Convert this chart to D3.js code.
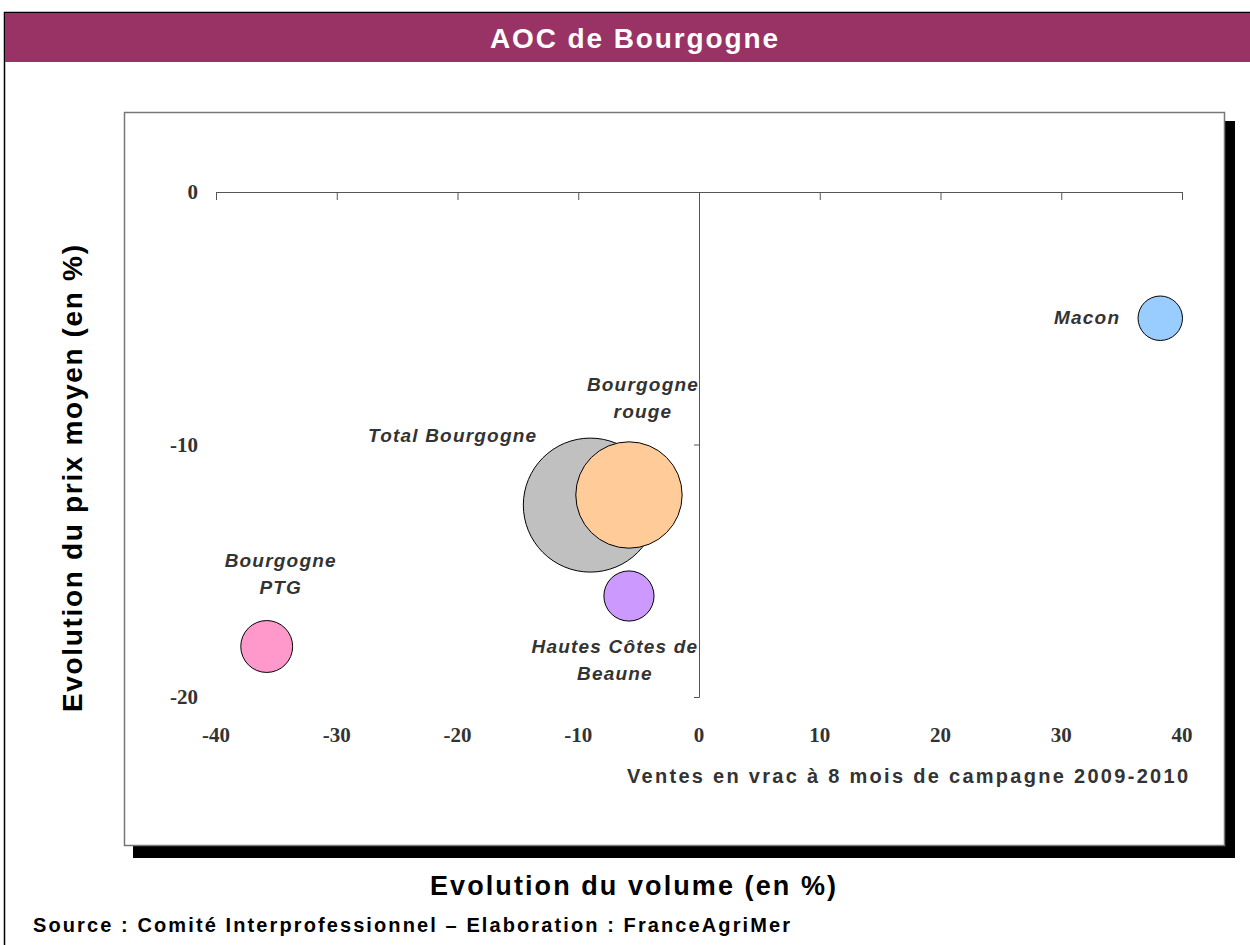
<!DOCTYPE html>
<html>
<head>
<meta charset="utf-8">
<script src="https://cdn.jsdelivr.net/npm/d3@7"></script>
<style>
  body { margin: 0; background: #fff; }
  text { font-family: "Liberation Sans", Arial, sans-serif; }
</style>
</head>
<body>
<script>
// chart data
var names = ["Macon", "Total Bourgogne", "Bourgogne rouge", "Hautes Côtes de Beaune", "Bourgogne PTG"];
var volume = [38.2, -9.0, -5.8, -5.8, -35.8];     // evolution du volume (%)
var prix = [-5.0, -12.4, -12.0, -16.0, -18.0];     // evolution du prix moyen (%)
var poids = [11, 100, 63, 14, 15];                 // bubble size
var couleurs = ["#99CCFF", "#C0C0C0", "#FFCC99", "#CC99FF", "#FF99CC"];
var xTicks = [-40, -30, -20, -10, 0, 10, 20, 30, 40];
var yTicks = [0, -10, -20];

var svgWidth = 1250;
var svgHeight = 945;

var svg = d3.select("body")
    .append("svg")
    .attr("width", svgWidth)
    .attr("height", svgHeight);

// outer frame + title band
svg.append("rect")
    .attr("x", 4.5).attr("y", 12.5)
    .attr("width", 1260).attr("height", 960)
    .style("fill", "#fff").style("stroke", "#000").style("stroke-width", 1.5);
svg.append("rect")
    .attr("x", 5).attr("y", 13)
    .attr("width", 1250).attr("height", 49)
    .style("fill", "#993366");
svg.append("text")
    .attr("x", 490).attr("y", 48)
    .attr("textLength", 288).attr("lengthAdjust", "spacing")
    .style("font-size", "28px").style("font-weight", "bold")
    .style("fill", "#fff")
    .text("AOC de Bourgogne");

// plot frame with its shadow
svg.append("rect")
    .attr("x", 133).attr("y", 121)
    .attr("width", 1102).attr("height", 737)
    .style("fill", "#000");
svg.append("rect")
    .attr("x", 124.5).attr("y", 112.5)
    .attr("width", 1100).attr("height", 733)
    .style("fill", "#fff").style("stroke", "#777").style("stroke-width", 1.5);

// scales
var x = d3.scaleLinear().domain([-40, 40]).range([216, 1182]);
var y = d3.scaleLinear().domain([-20, 0]).range([697, 192]);
var r = d3.scaleSqrt().domain([0, 100]).range([0, 67]);

// x axis sits on y = 0, ticks pointing down
var xAxis = svg.append("g")
    .attr("transform", "translate(0," + y(0) + ")")
    .call(d3.axisBottom(x).tickValues(xTicks).tickSize(8).tickSizeOuter(8).tickFormat(""));
xAxis.selectAll("path, line").style("stroke", "#555");

// y axis sits on x = 0, ticks pointing left
var yAxis = svg.append("g")
    .attr("transform", "translate(" + x(0) + ",0)")
    .call(d3.axisLeft(y).tickValues(yTicks).tickSize(5).tickSizeOuter(5).tickFormat(""));
yAxis.selectAll("path, line").style("stroke", "#555");

// tick labels (serif bold, like the original)
svg.selectAll(".xlab")
    .data(xTicks)
    .enter()
    .append("text")
    .attr("x", function(d) { return x(d); })
    .attr("y", 742)
    .attr("text-anchor", "middle")
    .style("font-family", "'Liberation Serif', 'Times New Roman', serif")
    .style("font-size", "21px").style("font-weight", "bold")
    .style("fill", "#333")
    .text(function(d) { return d; });

svg.selectAll(".ylab")
    .data(yTicks)
    .enter()
    .append("text")
    .attr("x", 198)
    .attr("y", function(d) { return y(d) + 7; })
    .attr("text-anchor", "end")
    .style("font-family", "'Liberation Serif', 'Times New Roman', serif")
    .style("font-size", "21px").style("font-weight", "bold")
    .style("fill", "#333")
    .text(function(d) { return d; });

// bubbles
var bulles = names.map(function(n, i) {
    return { name: n, vx: volume[i], vy: prix[i], size: poids[i], color: couleurs[i] };
});

svg.selectAll("circle.bulle")
    .data(bulles)
    .enter()
    .append("circle")
    .attr("class", "bulle")
    .attr("cx", function(d) { return x(d.vx); })
    .attr("cy", function(d) { return y(d.vy); })
    .attr("r", function(d) { return r(d.size); })
    .style("fill", function(d) { return d.color; })
    .style("stroke", "#000")
    .style("stroke-width", 1);

// bubble labels, placed around each bubble like in the original
var labelPos = {
    "Macon": { dx: -40, dy: 0, anchor: "end", lines: ["Macon"] },
    "Total Bourgogne": { dx: -53, dy: -69, anchor: "end", lines: ["Total Bourgogne"] },
    "Bourgogne rouge": { dx: 14, dy: -110, anchor: "middle", lines: ["Bourgogne", "rouge"] },
    "Hautes Côtes de Beaune": { dx: -14, dy: 51, anchor: "middle", lines: ["Hautes Côtes de", "Beaune"] },
    "Bourgogne PTG": { dx: 14, dy: -86, anchor: "middle", lines: ["Bourgogne", "PTG"] }
};

bulles.forEach(function(d) {
    var p = labelPos[d.name];
    var t = svg.append("text")
        .attr("text-anchor", p.anchor)
        .style("font-size", "19px").style("font-weight", "bold").style("font-style", "italic")
        .style("letter-spacing", "1.2px")
        .style("fill", "#333");
    p.lines.forEach(function(line, k) {
        t.append("tspan")
            .attr("x", x(d.vx) + p.dx)
            .attr("y", y(d.vy) + p.dy + 6 + k * 27)
            .text(line);
    });
});

// annotation + axis titles
svg.append("text")
    .attr("x", 627).attr("y", 783)
    .attr("textLength", 561).attr("lengthAdjust", "spacing")
    .style("font-size", "20px").style("font-weight", "bold")
    .style("fill", "#333")
    .text("Ventes en vrac à 8 mois de campagne 2009-2010");

svg.append("text")
    .attr("x", 430).attr("y", 895)
    .attr("textLength", 406).attr("lengthAdjust", "spacing")
    .style("font-size", "27px").style("font-weight", "bold")
    .style("fill", "#000")
    .text("Evolution du volume (en %)");

svg.append("text")
    .attr("transform", "translate(82,712) rotate(-90)")
    .attr("textLength", 467).attr("lengthAdjust", "spacing")
    .style("font-size", "28px").style("font-weight", "bold")
    .style("fill", "#000")
    .text("Evolution du prix moyen (en %)");

svg.append("text")
    .attr("x", 33).attr("y", 932)
    .attr("textLength", 757).attr("lengthAdjust", "spacing")
    .style("font-size", "20px").style("font-weight", "bold")
    .style("fill", "#000")
    .text("Source : Comité Interprofessionnel – Elaboration : FranceAgriMer");
</script>
</body>
</html>
